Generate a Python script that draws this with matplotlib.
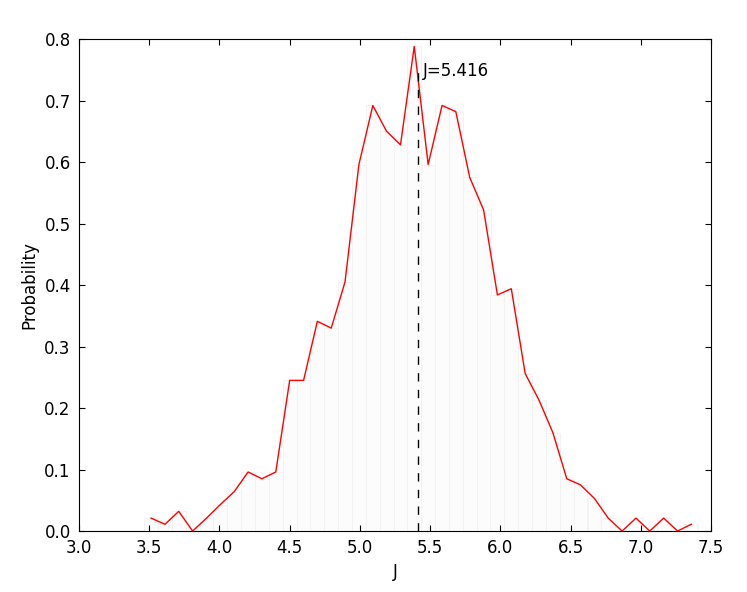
import matplotlib
matplotlib.use('Agg')
import matplotlib.pyplot as plt

# bin centres of the histogram of J and the normalised probability in each bin
j_centers = [3.513, 3.612, 3.710, 3.809, 3.908, 4.006, 4.105, 4.204, 4.302, 4.401,
             4.500, 4.599, 4.697, 4.796, 4.894, 4.993, 5.092, 5.190, 5.289, 5.387,
             5.486, 5.585, 5.683, 5.782, 5.881, 5.979, 6.078, 6.177, 6.275, 6.374,
             6.473, 6.571, 6.670, 6.768, 6.867, 6.966, 7.064, 7.163, 7.262, 7.360]
probability = [0.021, 0.011, 0.032, 0.000, 0.021, 0.043, 0.064, 0.096, 0.085, 0.096,
               0.245, 0.245, 0.341, 0.330, 0.405, 0.596, 0.692, 0.650, 0.628, 0.788,
               0.596, 0.692, 0.682, 0.575, 0.522, 0.384, 0.394, 0.256, 0.213, 0.160,
               0.085, 0.075, 0.053, 0.021, 0.000, 0.021, 0.000, 0.021, 0.000, 0.011]
bin_width = 0.0987
j_mean = 5.416
xticks = [3.0, 3.5, 4.0, 4.5, 5.0, 5.5, 6.0, 6.5, 7.0, 7.5]
yticks = [0.0, 0.1, 0.2, 0.3, 0.4, 0.5, 0.6, 0.7, 0.8]

# old-style matplotlib look: ticks inside on all four sides
plt.rcParams['font.family'] = ['DejaVu Sans']
plt.rcParams['font.size'] = 12
plt.rcParams['xtick.direction'] = 'in'
plt.rcParams['ytick.direction'] = 'in'
plt.rcParams['xtick.top'] = True
plt.rcParams['ytick.right'] = True
plt.rcParams['xtick.major.size'] = 4
plt.rcParams['ytick.major.size'] = 4
plt.rcParams['xtick.major.pad'] = 6
plt.rcParams['ytick.major.pad'] = 6

fig = plt.figure(figsize=(7.47, 5.92), dpi=100)
ax = fig.add_axes([0.1058, 0.103, 0.846, 0.831])

# faint histogram bars behind the line
ax.bar(j_centers, probability, width=bin_width, color='0.99', edgecolor='0.95',
       linewidth=0.6, zorder=1)
ax.plot(j_centers, probability, color='red', linewidth=1.0, zorder=3)

ax.plot([j_mean, j_mean], [0, 0.75], color='black', linestyle=(0, (6, 6)),
        linewidth=1.0, zorder=4)
ax.text(j_mean + 0.03, 0.74, "J=%.3f" % j_mean, fontsize=12)

ax.set_xlim(3.0, 7.5)
ax.set_ylim(0.0, 0.8)
ax.set_xticks(xticks)
ax.set_yticks(yticks)
ax.set_xticklabels(["%.1f" % t for t in xticks])
ax.set_yticklabels(["%.1f" % t for t in yticks])
ax.set_xlabel("J")
ax.set_ylabel("Probability")

fig.savefig("out.png", dpi=100)
